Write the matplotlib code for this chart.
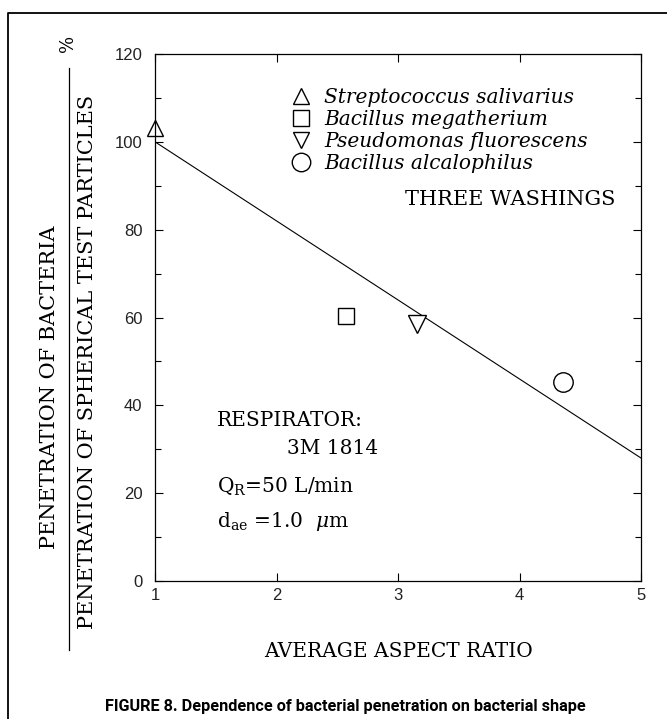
"""Penetration of bacteria vs aspect ratio (Figure 8)."""
import matplotlib
matplotlib.use("Agg")
import matplotlib.pyplot as plt
from matplotlib.lines import Line2D

# data
species = ["Streptococcus salivarius", "Bacillus megatherium",
           "Pseudomonas fluorescens", "Bacillus alcalophilus"]
aspect_ratio = [1.0, 2.57, 3.16, 4.36]
penetration = [103.2, 60.3, 58.5, 45.2]
markers = ["^", "s", "v", "o"]
marker_sizes = [12, 11.5, 12.5, 14]

fit_x = [1.0, 5.0]
fit_y = [100.0, 28.0]

x_ticks = [1, 2, 3, 4, 5]
y_ticks = [0, 20, 40, 60, 80, 100, 120]

SERIF = "DejaVu Serif"
SANS = "Liberation Sans"
plt.rcParams["mathtext.fontset"] = "dejavuserif"

fig = plt.figure(figsize=(6.67, 7.19), dpi=100)
ax = fig.add_axes([155 / 667, 1 - 581 / 719, 486 / 667, 527 / 719])

ax.plot(fit_x, fit_y, color="black", linewidth=0.8)
handles = []
for name, x, y, m, ms in zip(species, aspect_ratio, penetration, markers, marker_sizes):
    h, = ax.plot([x], [y], linestyle="none", marker=m, markersize=ms,
                 markerfacecolor="white", markeredgecolor="black",
                 markeredgewidth=1.0, clip_on=False, label=name)
    handles.append(h)

ax.set_xlim(1, 5)
ax.set_ylim(0, 120)
ax.set_xticks(x_ticks)
ax.set_yticks(y_ticks)
ax.set_yticks(range(10, 120, 20), minor=True)
ax.tick_params(which="both", direction="in", top=True, right=True, width=0.8,
               labelsize=12, labelcolor="#222222")
ax.tick_params(which="major", length=6)
ax.tick_params(which="minor", length=4)
ax.tick_params(axis="y", pad=9)
ax.tick_params(axis="x", pad=5)
for lab in ax.get_xticklabels() + ax.get_yticklabels():
    lab.set_family(SANS)
for sp in ax.spines.values():
    sp.set_linewidth(0.9)

leg = ax.legend(handles=handles, loc="upper left", bbox_to_anchor=(0.28, 0.935),
                frameon=False, handlelength=1.0, handletextpad=0.65,
                labelspacing=0.15, borderaxespad=0, markerscale=0.95,
                borderpad=0, prop={"family": SERIF, "style": "italic", "size": 14.5})

ax.text(0.9465, 0.724, "THREE WASHINGS", transform=ax.transAxes, ha="right",
        va="center", family=SERIF, fontsize=15)

ax.text(0.128, 0.305, "RESPIRATOR:", transform=ax.transAxes, ha="left",
        va="center", family=SERIF, fontsize=14.5)
ax.text(0.46, 0.252, "3M 1814", transform=ax.transAxes, ha="right",
        va="center", family=SERIF, fontsize=14.5)
ax.text(0.128, 0.178, r"Q$_{\mathregular{R}}$=50 L/min", transform=ax.transAxes,
        ha="left", va="center", family=SERIF, fontsize=14.5)
ax.text(0.128, 0.112, r"d$_{\mathregular{ae}}$ =1.0  $\mu$m", transform=ax.transAxes,
        ha="left", va="center", family=SERIF, fontsize=14.5)

ax.set_xlabel("AVERAGE ASPECT RATIO", family=SERIF, fontsize=14.5, labelpad=28)

# y label drawn as a fraction
fig.text(50 / 667, 1 - 387 / 719, "PENETRATION OF BACTERIA", rotation=90,
         ha="center", va="center", family=SERIF, fontsize=15)
fig.text(88 / 667, 1 - 362 / 719, "PENETRATION OF SPHERICAL TEST PARTICLES",
         rotation=90, ha="center", va="center", family=SERIF, fontsize=15)
fig.add_artist(Line2D([69 / 667, 69 / 667], [1 - 68 / 719, 1 - 650 / 719],
                      transform=fig.transFigure, color="black", linewidth=0.9))
fig.text(68 / 667, 1 - 43 / 719, "%", rotation=90, ha="center", va="center",
         family=SERIF, fontsize=13)

caption = fig.text(345 / 667, 1 - 706 / 719,
                   "FIGURE 8. Dependence of bacterial penetration on bacterial shape",
                   ha="center", va="center", fontsize=14, fontweight="bold",
                   family=["Liberation Sans Narrow", "Roboto", "DejaVu Sans"])
# shrink the caption to the width it has in the reference (~481 px)
fig.canvas.draw()
w = caption.get_window_extent().width
caption.set_fontsize(14 * 481 / w)

# page frame
fig.add_artist(Line2D([8 / 667, 8 / 667, 1.0], [0.0, 1 - 13 / 719, 1 - 13 / 719],
                      transform=fig.transFigure, color="black", linewidth=1.3))

fig.savefig("out.png", dpi=100)
